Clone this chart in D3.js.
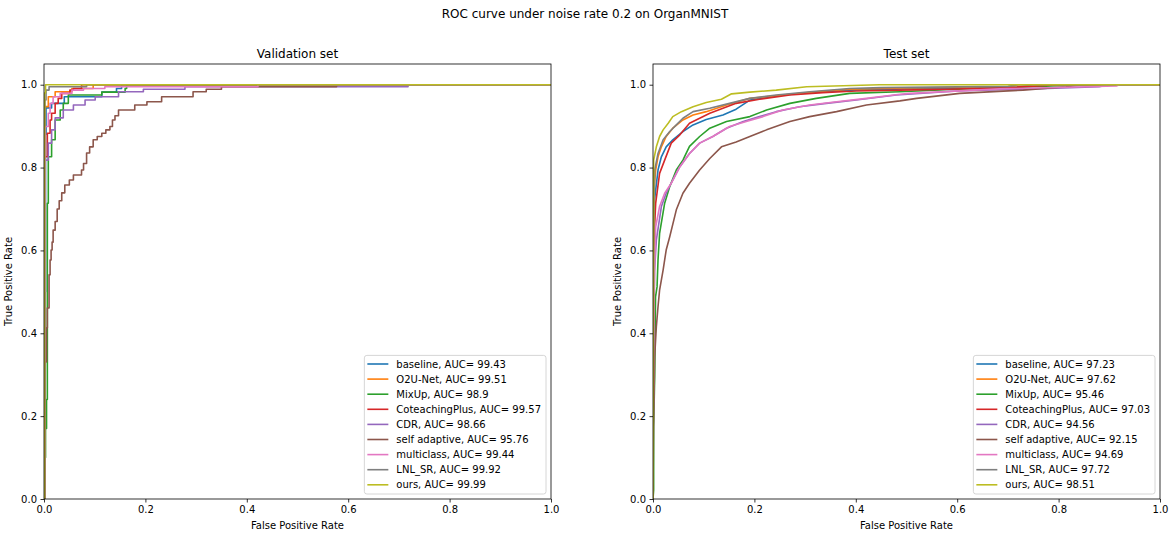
<!DOCTYPE html>
<html><head><meta charset="utf-8">
<script src="https://cdn.jsdelivr.net/npm/d3@7"></script>
<style>body{margin:0;background:#fff}svg{display:block}text{font-family:"DejaVu Sans",sans-serif}</style>
</head><body><svg id="c" width="1175" height="537"></svg>
<script>
const methods = ["baseline","O2U-Net","MixUp","CoteachingPlus","CDR","self adaptive","multiclass","LNL_SR","ours"];
const colors = ["#1f77b4","#ff7f0e","#2ca02c","#d62728","#9467bd","#8c564b","#e377c2","#7f7f7f","#bcbd22"];
const valAUC = ["99.43","99.51","98.9","99.57","98.66","95.76","99.44","99.92","99.99"];
const testAUC = ["97.23","97.62","95.46","97.03","94.56","92.15","94.69","97.72","98.51"];
const ticks = [0,0.2,0.4,0.6,0.8,1.0];

// Validation set ROC points [fpr, tpr] (step corners)
const valBaseline = [[0,0],[0.002,0.5],[0.003,0.88],[0.004,0.944],[0.015,0.955],[0.04,0.971],[0.114,0.982],[0.143,0.991],[0.153,1.0],[1,1]];
const valO2U = [[0,0],[0.001,0.7],[0.002,0.947],[0.0085,0.971],[0.022,0.983],[0.055,0.991],[0.097,1.0],[1,1]];
const valMixUp = [[0,0],[0.002,0.1],[0.003,0.17],[0.005,0.24],[0.0066,0.46],[0.0066,0.714],[0.0085,0.826],[0.015,0.867],[0.022,0.915],[0.032,0.939],[0.038,0.955],[0.048,0.975],[0.114,0.982],[0.160,0.991],[0.163,1.0],[1,1]];
const valCoteach = [[0,0],[0.001,0.6],[0.002,0.826],[0.0066,0.883],[0.012,0.915],[0.015,0.931],[0.022,0.955],[0.028,0.967],[0.035,0.979],[0.051,0.987],[0.058,0.991],[0.074,1.0],[1,1]];
const valCDR = [[0,0],[0.001,0.6],[0.002,0.818],[0.0085,0.859],[0.015,0.891],[0.022,0.920],[0.038,0.939],[0.058,0.951],[0.081,0.963],[0.101,0.971],[0.147,0.983],[0.196,0.989],[0.278,0.995],[0.718,1.0],[1,1]];
const valSelf = [[0,0],[0.002,0.331],[0.005,0.413],[0.0066,0.461],[0.01,0.541],[0.012,0.577],[0.014,0.601],[0.016,0.62],[0.018,0.649],[0.022,0.67],[0.026,0.7],[0.03,0.72],[0.035,0.739],[0.041,0.758],[0.05,0.77],[0.058,0.782],[0.074,0.794],[0.078,0.81],[0.084,0.835],[0.09,0.85],[0.097,0.867],[0.105,0.875],[0.114,0.883],[0.122,0.891],[0.130,0.899],[0.135,0.915],[0.140,0.925],[0.147,0.939],[0.179,0.951],[0.203,0.959],[0.232,0.971],[0.294,0.983],[0.32,0.989],[0.350,0.995],[0.577,1.0],[1,1]];
const valMulti = [[0,0],[0.001,0.5],[0.002,0.899],[0.0085,0.931],[0.012,0.955],[0.018,0.971],[0.032,0.979],[0.055,0.987],[0.078,0.991],[0.12,0.995],[0.422,1.0],[1,1]];
const valLNL = [[0,0],[0.001,0.9],[0.002,0.963],[0.004,0.987],[0.01,0.995],[0.084,1.0],[1,1]];
const valOurs = [[0,0],[0.001,0.98],[0.003,1.0],[1,1]];

// Test set ROC points [fpr, tpr]
const testBaseline = [[0,0],[0.001,0.55],[0.003,0.722],[0.0099,0.794],[0.0165,0.826],[0.026,0.850],[0.039,0.867],[0.059,0.887],[0.079,0.903],[0.105,0.916],[0.138,0.927],[0.164,0.941],[0.191,0.963],[0.256,0.975],[0.322,0.982],[0.388,0.987],[0.5,0.99],[0.72,0.994],[0.75,1.0],[1,1]];
const testO2U = [[0,0],[0.001,0.6],[0.0013,0.738],[0.0053,0.794],[0.0099,0.826],[0.0165,0.850],[0.026,0.875],[0.039,0.895],[0.059,0.915],[0.079,0.927],[0.105,0.935],[0.145,0.951],[0.191,0.967],[0.256,0.975],[0.322,0.983],[0.388,0.989],[0.5,0.992],[0.7,0.995],[0.72,1.0],[1,1]];
const testMixUp = [[0,0],[0.0013,0.022],[0.0013,0.175],[0.0033,0.295],[0.005,0.488],[0.008,0.512],[0.0099,0.577],[0.013,0.641],[0.023,0.714],[0.033,0.754],[0.046,0.794],[0.059,0.818],[0.072,0.851],[0.092,0.875],[0.112,0.895],[0.145,0.911],[0.191,0.923],[0.224,0.939],[0.270,0.955],[0.322,0.967],[0.388,0.979],[0.487,0.983],[0.6,0.989],[0.75,0.995],[0.85,1.0],[1,1]];
const testCoteach = [[0,0],[0.001,0.45],[0.0013,0.609],[0.0053,0.714],[0.013,0.786],[0.023,0.818],[0.036,0.859],[0.053,0.879],[0.072,0.907],[0.092,0.919],[0.112,0.931],[0.138,0.943],[0.164,0.955],[0.210,0.965],[0.270,0.975],[0.335,0.981],[0.401,0.985],[0.487,0.987],[0.58,0.989],[0.7,0.993],[0.8,1.0],[1,1]];
const testCDR = [[0,0],[0.001,0.35],[0.003,0.55],[0.0066,0.625],[0.0165,0.706],[0.026,0.738],[0.039,0.770],[0.053,0.802],[0.072,0.834],[0.092,0.859],[0.118,0.875],[0.145,0.895],[0.178,0.911],[0.210,0.923],[0.243,0.935],[0.289,0.947],[0.342,0.955],[0.401,0.963],[0.480,0.975],[0.6,0.985],[0.75,0.99],[0.88,0.995],[0.9,1.0],[1,1]];
const testSelf = [[0,0],[0.001,0.17],[0.0033,0.343],[0.0066,0.416],[0.0099,0.464],[0.013,0.504],[0.020,0.553],[0.026,0.601],[0.033,0.633],[0.046,0.698],[0.059,0.738],[0.072,0.762],[0.092,0.794],[0.112,0.822],[0.135,0.850],[0.164,0.862],[0.191,0.875],[0.224,0.891],[0.270,0.911],[0.309,0.923],[0.362,0.935],[0.421,0.951],[0.487,0.961],[0.52,0.967],[0.605,0.979],[0.73,0.987],[0.815,0.995],[0.85,1.0],[1,1]];
const testMulti = [[0,0],[0.001,0.36],[0.003,0.55],[0.0053,0.657],[0.013,0.706],[0.023,0.738],[0.036,0.762],[0.053,0.802],[0.072,0.834],[0.092,0.859],[0.118,0.875],[0.151,0.899],[0.184,0.911],[0.217,0.923],[0.256,0.939],[0.309,0.951],[0.362,0.959],[0.421,0.967],[0.487,0.977],[0.506,0.979],[0.684,0.99],[0.914,0.997],[0.92,1.0],[1,1]];
const testLNL = [[0,0],[0.001,0.6],[0.0033,0.794],[0.0099,0.834],[0.020,0.867],[0.033,0.887],[0.046,0.903],[0.059,0.919],[0.079,0.935],[0.112,0.943],[0.151,0.955],[0.191,0.967],[0.243,0.975],[0.309,0.983],[0.388,0.991],[0.45,0.993],[0.7,0.996],[0.72,1.0],[1,1]];
const testOurs = [[0,0],[0.001,0.6],[0.0013,0.818],[0.0066,0.850],[0.013,0.875],[0.020,0.891],[0.030,0.907],[0.039,0.923],[0.056,0.935],[0.079,0.947],[0.105,0.957],[0.135,0.965],[0.155,0.978],[0.191,0.982],[0.243,0.987],[0.303,0.995],[0.447,1.0],[1,1]];

const valSeries = [valBaseline,valO2U,valMixUp,valCoteach,valCDR,valSelf,valMulti,valLNL,valOurs];
const testSeries = [testBaseline,testO2U,testMixUp,testCoteach,testCDR,testSelf,testMulti,testLNL,testOurs];

const svg = d3.select("#c");
svg.append("text").attr("x",585).attr("y",17.5).attr("text-anchor","middle").attr("font-size",12).text("ROC curve under noise rate 0.2 on OrganMNIST");

const axTop = 64, axBottom = 499;
const panels = [
  {left:44, right:551, title:"Validation set", series:valSeries, auc:valAUC, curve:d3.curveStepAfter, id:"v"},
  {left:653, right:1160, title:"Test set", series:testSeries, auc:testAUC, curve:d3.curveLinear, id:"t"}
];

panels.forEach(p => {
  const x = d3.scaleLinear().domain([0,1]).range([p.left,p.right]);
  const y = d3.scaleLinear().domain([0,1.05]).range([axBottom,axTop]);
  const g = svg.append("g");
  svg.append("clipPath").attr("id","clip"+p.id).append("rect")
    .attr("x",p.left).attr("y",axTop).attr("width",p.right-p.left).attr("height",axBottom-axTop);
  const line = d3.line().x(d=>x(d[0])).y(d=>y(d[1])).curve(p.curve);
  const lg = g.append("g").attr("clip-path",`url(#clip${p.id})`);
  p.series.forEach((s,i) => {
    lg.append("path").attr("d",line(s)).attr("fill","none").attr("stroke",colors[i]).attr("stroke-width",1.6).attr("stroke-linejoin","round");
  });
  const xa = g.append("g").attr("transform",`translate(0,${axBottom})`).call(d3.axisBottom(x).tickValues(ticks).tickFormat(d3.format(".1f")).tickSize(3.5).tickPadding(3.5));
  const ya = g.append("g").attr("transform",`translate(${p.left},0)`).call(d3.axisLeft(y).tickValues(ticks).tickFormat(d3.format(".1f")).tickSize(3.5).tickPadding(3.5));
  [xa,ya].forEach(a => {
    a.select(".domain").remove();
    a.selectAll("line").attr("stroke","#000").attr("stroke-width",0.8);
    a.selectAll("text").attr("font-size",10).attr("fill","#000").attr("font-family","DejaVu Sans");
  });
  g.append("rect").attr("x",p.left).attr("y",axTop).attr("width",p.right-p.left).attr("height",axBottom-axTop)
    .attr("fill","none").attr("stroke","#000").attr("stroke-width",0.8);
  g.append("text").attr("x",(p.left+p.right)/2).attr("y",58).attr("text-anchor","middle").attr("font-size",12).text(p.title);
  g.append("text").attr("x",(p.left+p.right)/2).attr("y",529).attr("text-anchor","middle").attr("font-size",10).text("False Positive Rate");
  g.append("text").attr("transform",`translate(${p.left-32},${(axTop+axBottom)/2}) rotate(-90)`).attr("text-anchor","middle").attr("font-size",10).text("True Positive Rate");
  const leg = g.append("g");
  const boxRight = p.right - 5, boxBottom = axBottom - 5;
  const rowH = 15.1, boxH = 138.6;
  const boxTop = boxBottom - boxH;
  const texts = leg.selectAll("text.l").data(methods).join("text").attr("class","l")
    .attr("font-size",10).attr("dominant-baseline","central")
    .text((d,i)=>`${d}, AUC= ${p.auc[i]}`);
  let maxW = 0; texts.each(function(){ maxW = Math.max(maxW, this.getComputedTextLength()); });
  const boxW = 32 + maxW + 5;
  const boxLeft = boxRight - boxW;
  leg.insert("rect","text").attr("x",boxLeft).attr("y",boxTop).attr("width",boxW).attr("height",boxH)
    .attr("rx",2.5).attr("fill","#fff").attr("fill-opacity",0.8).attr("stroke","#cccccc").attr("stroke-width",0.8);
  texts.attr("x",boxLeft+32).attr("y",(d,i)=>boxTop+8.6+i*rowH);
  methods.forEach((m,i)=>{
    leg.append("line").attr("x1",boxLeft+3).attr("x2",boxLeft+24).attr("y1",boxTop+8.6+i*rowH).attr("y2",boxTop+8.6+i*rowH)
      .attr("stroke",colors[i]).attr("stroke-width",1.6);
  });
});
</script></body></html>
